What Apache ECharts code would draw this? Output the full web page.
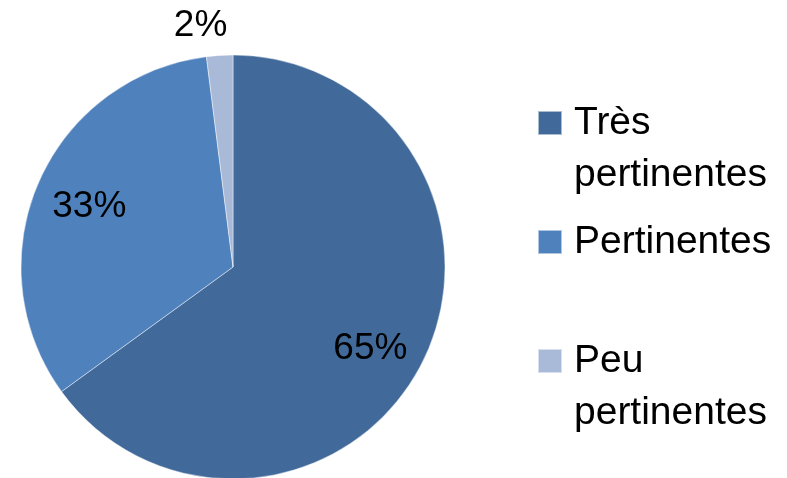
<!DOCTYPE html>
<html>
<head>
<meta charset="utf-8">
<script src="https://cdn.jsdelivr.net/npm/echarts@6/dist/echarts.min.js"></script>
<style>
  html, body { margin: 0; padding: 0; background: #fff; }
  #chart { width: 787px; height: 478px; }
</style>
</head>
<body>
<div id="chart"></div>
<script>
/* ── Data ── */
const CATEGORIES = ['Très pertinentes', 'Pertinentes', 'Peu pertinentes'];
const VALUES = [65, 33, 2];
// leading empty line keeps the first text line level with the legend square
const LEGEND_TEXT = ['\nTrès\npertinentes', 'Pertinentes', '\nPeu\npertinentes'];
const OUTSIDE_LABEL = [false, false, true]; // small slice gets its label outside the pie

/* ── Styles ── */
const COLORS = ['#416A9B', '#4F81BD', '#A9B9D8'];
const LABEL_NUDGE = [[-7, 8], [5, 4], [-17, 4]];
const FONT = 'Liberation Sans';
const FS = 37;
const LEGEND_FS = 39;
const LINE_H = 52;
const CENTER = [233, 267];
const R = 212;

const chart = echarts.init(document.getElementById('chart'), null, { renderer: 'canvas' });

const pieData = CATEGORIES.map((name, i) => ({
    name,
    value: VALUES[i],
    itemStyle: { color: COLORS[i] },
}));

// transparent rings only used to place the labels where Excel puts them
const labelRing = (outside) => CATEGORIES.map((name, i) => ({
    name,
    value: VALUES[i],
    label: { show: OUTSIDE_LABEL[i] === outside, offset: LABEL_NUDGE[i] },
}));

const labelStyle = {
    position: 'inside',
    formatter: '{d}%',
    fontFamily: FONT,
    fontSize: FS,
    color: '#000',
};

const legendFor = (i, top) => ({
    orient: 'vertical',
    left: 537,
    top,
    padding: 0,
    itemWidth: 24,
    itemHeight: 24,
    icon: 'rect',
    selectedMode: false,
    data: [{ name: CATEGORIES[i], itemStyle: { color: COLORS[i] } }],
    formatter: () => LEGEND_TEXT[i],
    textStyle: {
        fontFamily: FONT,
        fontSize: LEGEND_FS,
        color: '#000',
        lineHeight: LINE_H,
        padding: [0, 0, 0, 7],
    },
});

chart.setOption({
    animation: false,
    legend: [
        legendFor(0, 123 - LINE_H * 1.5),
        legendFor(1, 242 - LINE_H / 2),
        legendFor(2, 361 - LINE_H * 1.5),
    ],
    series: [
        {
            type: 'pie',
            center: CENTER,
            radius: R,
            startAngle: 90,
            clockwise: true,
            silent: true,
            label: { show: false },
            labelLine: { show: false },
            itemStyle: { borderColor: 'rgba(255,255,255,0.55)', borderWidth: 0.8 },
            data: pieData,
        },
        {
            type: 'pie',
            center: CENTER,
            radius: [R / 2, R],
            startAngle: 90,
            silent: true,
            itemStyle: { color: 'transparent' },
            label: labelStyle,
            labelLine: { show: false },
            percentPrecision: 0,
            data: labelRing(false),
        },
        {
            type: 'pie',
            center: CENTER,
            radius: [R, R + 62],
            startAngle: 90,
            silent: true,
            itemStyle: { color: 'transparent' },
            label: labelStyle,
            labelLine: { show: false },
            percentPrecision: 0,
            data: labelRing(true),
        },
    ],
});
</script>
</body>
</html>
